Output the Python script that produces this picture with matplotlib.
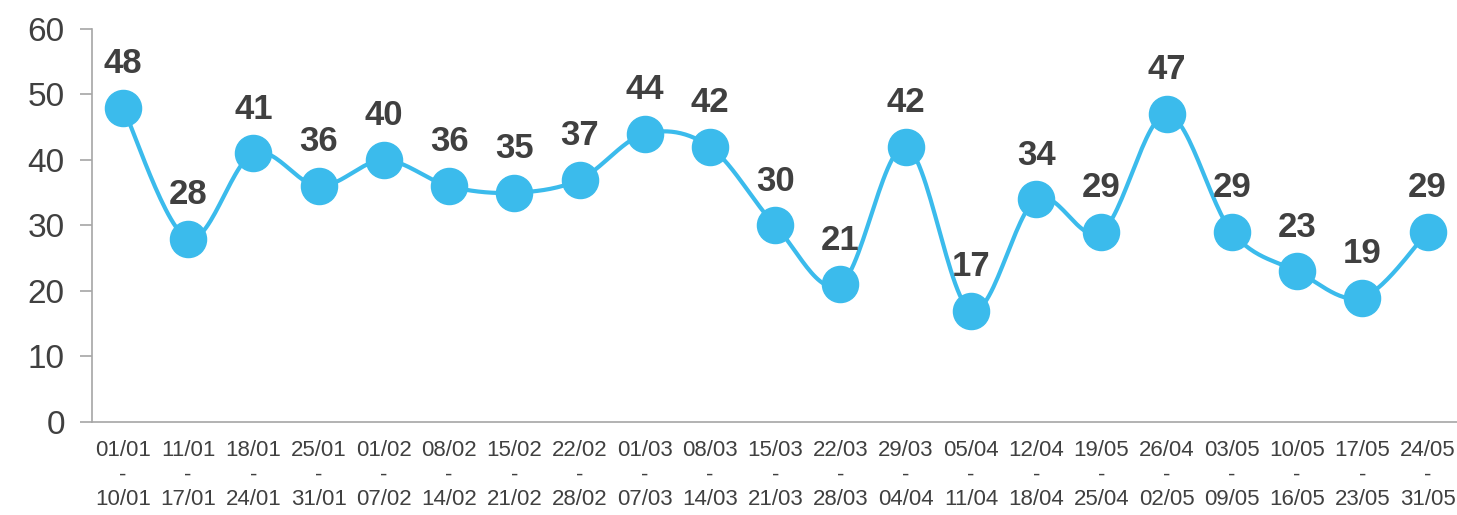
import numpy as np
import matplotlib.pyplot as plt

plt.rcParams['font.family'] = ['Liberation Sans', 'DejaVu Sans']

# weekly periods and counts
starts = ['01/01', '11/01', '18/01', '25/01', '01/02', '08/02', '15/02', '22/02', '01/03', '08/03',
          '15/03', '22/03', '29/03', '05/04', '12/04', '19/05', '26/04', '03/05', '10/05', '17/05', '24/05']
ends = ['10/01', '17/01', '24/01', '31/01', '07/02', '14/02', '21/02', '28/02', '07/03', '14/03',
        '21/03', '28/03', '04/04', '11/04', '18/04', '25/04', '02/05', '09/05', '16/05', '23/05', '31/05']
values = [48, 28, 41, 36, 40, 36, 35, 37, 44, 42, 30, 21, 42, 17, 34, 29, 47, 29, 23, 19, 29]

labels = [f'{s}\n-\n{e}' for s, e in zip(starts, ends)]
line_color = '#3BBBEC'
text_color = '#404040'
axis_color = '#A6A6A6'


def smooth(x, y, steps=30):
    # Catmull-Rom spline through the points, for a smoothed line
    x = np.asarray(x, float)
    y = np.asarray(y, float)
    px = np.concatenate([[x[0]], x, [x[-1]]])
    py = np.concatenate([[y[0]], y, [y[-1]]])
    xs, ys = [], []
    t = np.linspace(0, 1, steps)
    for i in range(1, len(px) - 2):
        p0, p1, p2, p3 = (np.array([px[j], py[j]]) for j in range(i - 1, i + 3))
        m1 = (p2 - p0) / 2
        m2 = (p3 - p1) / 2
        h00 = 2 * t**3 - 3 * t**2 + 1
        h10 = t**3 - 2 * t**2 + t
        h01 = -2 * t**3 + 3 * t**2
        h11 = t**3 - t**2
        seg = (np.outer(h00, p1) + np.outer(h10, m1) + np.outer(h01, p2) + np.outer(h11, m2))
        xs.append(seg[:, 0])
        ys.append(seg[:, 1])
    return np.concatenate(xs), np.concatenate(ys)


fig = plt.figure(figsize=(14.57, 5.15), dpi=100)
ax = fig.add_axes([0.0631, 0.1806, 0.94, 0.7631])

x = np.arange(len(values))
sx, sy = smooth(x, values)
ax.plot(sx, sy, color=line_color, lw=3, zorder=2)
ax.plot(x, values, 'o', color=line_color, ms=26, zorder=3)

for xi, v in zip(x, values):
    ax.annotate(str(v), (xi, v), xytext=(0, 25), textcoords='offset points',
                ha='center', va='baseline', fontsize=25, fontweight='bold', color=text_color)

ax.set_xlim(-0.475, 20.52)
ax.set_ylim(0, 60)
ax.set_yticks(range(0, 61, 10))
ax.set_xticks(x)
ax.set_xticklabels(labels, fontsize=16, color=text_color, linespacing=1.22)
ax.tick_params(axis='y', labelsize=24, labelcolor=text_color, color=axis_color,
               length=8.5, width=1.2, pad=11)
ax.tick_params(axis='x', length=0, pad=13)

for side in ['top', 'right']:
    ax.spines[side].set_visible(False)
for side in ['left', 'bottom']:
    ax.spines[side].set_color(axis_color)
    ax.spines[side].set_linewidth(1.2)

fig.savefig('out.png', dpi=100)
